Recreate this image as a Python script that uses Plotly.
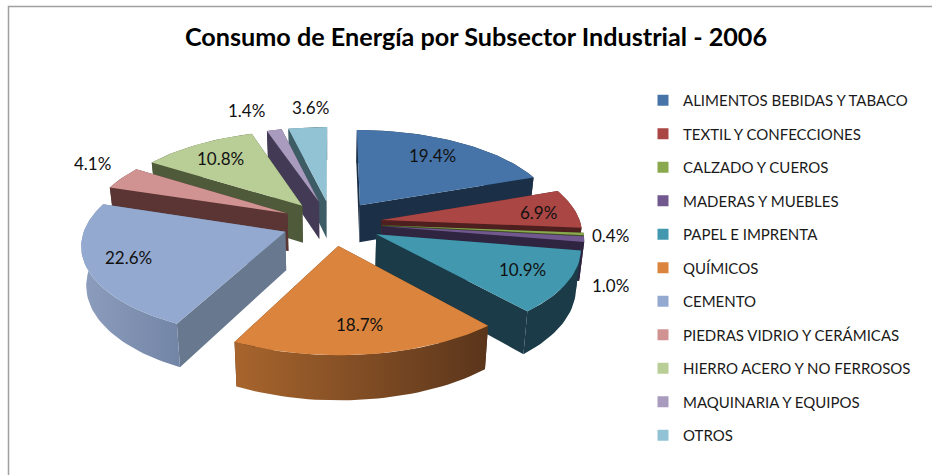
import math
import plotly.graph_objects as go

categories = ["ALIMENTOS BEBIDAS Y TABACO", "TEXTIL Y CONFECCIONES", "CALZADO Y CUEROS",
              "MADERAS Y MUEBLES", "PAPEL E IMPRENTA", "QUÍMICOS", "CEMENTO",
              "PIEDRAS VIDRIO Y CERÁMICAS", "HIERRO ACERO Y NO FERROSOS",
              "MAQUINARIA Y EQUIPOS", "OTROS"]
values = [19.4, 6.9, 0.4, 1.0, 10.9, 18.7, 22.6, 4.1, 10.8, 1.4, 3.6]

top_colors = ["#4674A8", "#AA4644", "#8AA84E", "#71588F", "#4298AF", "#DB843D",
              "#93A9CF", "#D19392", "#B9CD96", "#A99BBD", "#92C3D4"]
wall_colors = ["#1B2F47", "#4E1F1F", "#3F4F24", "#2F2540", "#1A3B47", "#56331A",
               "#67788F", "#5A3534", "#4E5A3A", "#433A55", "#3D5C66"]
rim_left = ["#1B2F47", "#4E1F1F", "#3F4F24", "#2F2540", "#1A3B47", "#A8652D",
            "#8C9DBD", "#5A3534", "#4E5A3A", "#433A55", "#3D5C66"]
rim_right = ["#1B2F47", "#4E1F1F", "#3F4F24", "#2F2540", "#1A3B47", "#5A351B",
             "#7385A6", "#5A3534", "#4E5A3A", "#433A55", "#3D5C66"]
label_x = [432, 538, 610, 610, 522, 359, 128, 92, 220, 246, 310]
label_y = [155, 212, 235, 285, 269, 324, 257, 163, 158, 110, 107]

CX, CY, R, EXPLODE, K, P, DEPTH = 332, 223, 199, 50, 0.447, 0.16 / 250, 38


def project(tx, ty, down=0.0):
    s = 1 / (1 - P * ty)
    shrink = 1 - 0.02 * down / DEPTH
    return CX + tx * s * shrink, CY + K * ty * s + down * s


total = sum(values)
spans = []
cum = 0.0
for v in values:
    a0 = cum / total * 2 * math.pi
    cum += v
    spans.append((a0, cum / total * 2 * math.pi))


def slice_geometry(a0, a1):
    mid = (a0 + a1) / 2
    ox, oy = EXPLODE * math.sin(mid), -EXPLODE * math.cos(mid)
    n = max(3, int((a1 - a0) / 0.03))
    arc = [(ox + R * math.sin(a0 + (a1 - a0) * i / n),
            oy - R * math.cos(a0 + (a1 - a0) * i / n)) for i in range(n + 1)]
    return (ox, oy), arc, mid


def poly(points, color, gradient=None):
    xs = [p[0] for p in points] + [points[0][0]]
    ys = [p[1] for p in points] + [points[0][1]]
    kw = dict(x=xs, y=ys, mode="lines", line=dict(width=0), fill="toself",
              hoverinfo="skip", showlegend=False)
    if gradient:
        kw["fillgradient"] = dict(type="horizontal",
                                  colorscale=[[0, gradient[0]], [1, gradient[1]]])
    else:
        kw["fillcolor"] = color
    return go.Scatter(**kw)


fig = go.Figure()
order = sorted(range(len(values)), key=lambda i: -math.cos(sum(spans[i]) / 2))
for i in order:
    apex, arc, mid = slice_geometry(*spans[i])
    # radial walls
    for edge in (arc[0], arc[-1]):
        fig.add_trace(poly([project(*apex), project(*edge), project(*edge, DEPTH),
                            project(*apex, DEPTH)], wall_colors[i]))
    # outer rim
    rim = [project(*p) for p in arc] + [project(*p, DEPTH) for p in reversed(arc)]
    fig.add_trace(poly(rim, None, (rim_left[i], rim_right[i]))
                  if rim_left[i] != rim_right[i] else poly(rim, wall_colors[i]))
    # top face
    fig.add_trace(poly([project(*apex)] + [project(*p) for p in arc], top_colors[i]))

# legend entries
for i, name in enumerate(categories):
    fig.add_trace(go.Scatter(x=[None], y=[None], mode="markers", name=name,
                             legendgroup=name, legendrank=i + 1,
                             marker=dict(symbol="square", size=11, color=top_colors[i])))

for v, x, y in zip(values, label_x, label_y):
    fig.add_annotation(x=x, y=y, xref="x", yref="y", text=f"{v:.1f}%", showarrow=False,
                       font=dict(family="Lato", size=17, color="#111111"))

fig.add_shape(type="rect", xref="x", yref="y", x0=8.5, y0=6.5, x1=940, y1=500,
              line=dict(color="#A0A0A0", width=1.5), fillcolor="rgba(0,0,0,0)", layer="below")

fig.update_layout(
    width=932, height=475, margin=dict(l=0, r=0, t=0, b=0),
    paper_bgcolor="white", plot_bgcolor="white",
    xaxis=dict(range=[0, 932], visible=False, fixedrange=True),
    yaxis=dict(range=[475, 0], visible=False, fixedrange=True),
    title=dict(text="<b>Consumo de Energía por Subsector Industrial - 2006</b>",
               x=476 / 932, xanchor="center", y=1 - 37 / 475, yanchor="middle",
               font=dict(family="Lato", size=25.2, color="black")),
    legend=dict(x=643 / 932, y=1 - 84 / 475, xanchor="left", yanchor="top",
                tracegroupgap=11, bgcolor="rgba(0,0,0,0)",
                font=dict(family="Lato", size=15, color="#1a1a1a"), itemclick=False,
                itemdoubleclick=False),
)
fig.write_html("out.html", config={"displayModeBar": False},
               post_script="document.body.style.margin='0';")
